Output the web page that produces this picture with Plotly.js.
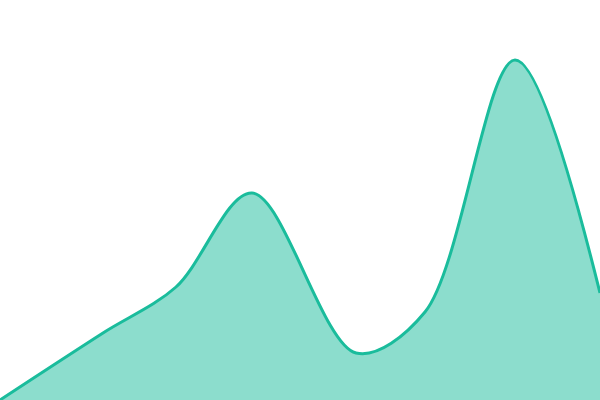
<!DOCTYPE html>
<html>
<head>
<meta charset="utf-8">
<script src="https://cdn.plot.ly/plotly-3.0.1.min.js"></script>
<style>
  html, body { margin: 0; padding: 0; background: #fff; }
  #chart { width: 600px; height: 400px; }
</style>
</head>
<body>
<div id="chart"></div>
<script>
// sample positions and values
const xValues = [0, 103, 176, 252, 356, 425, 515, 600];
const yValues = [0, 16.75, 28.25, 51.75, 11.75, 22, 85, 26.75];

const trace = {
    x: xValues,
    y: yValues,
    type: 'scatter',
    mode: 'lines',
    fill: 'tozeroy',
    fillcolor: 'rgba(26, 188, 156, 0.5)',
    line: {
        color: '#1abc9c',
        width: 3,
        shape: 'spline',
        smoothing: 0.95
    },
    hoverinfo: 'skip'
};

const layout = {
    width: 600,
    height: 400,
    margin: { l: 0, r: 0, t: 0, b: 0 },
    paper_bgcolor: '#ffffff',
    plot_bgcolor: '#ffffff',
    showlegend: false,
    xaxis: { range: [0, 600], visible: false, fixedrange: true },
    yaxis: { range: [0, 100], visible: false, fixedrange: true }
};

Plotly.newPlot('chart', [trace], layout, { displayModeBar: false, staticPlot: true });
</script>
</body>
</html>
